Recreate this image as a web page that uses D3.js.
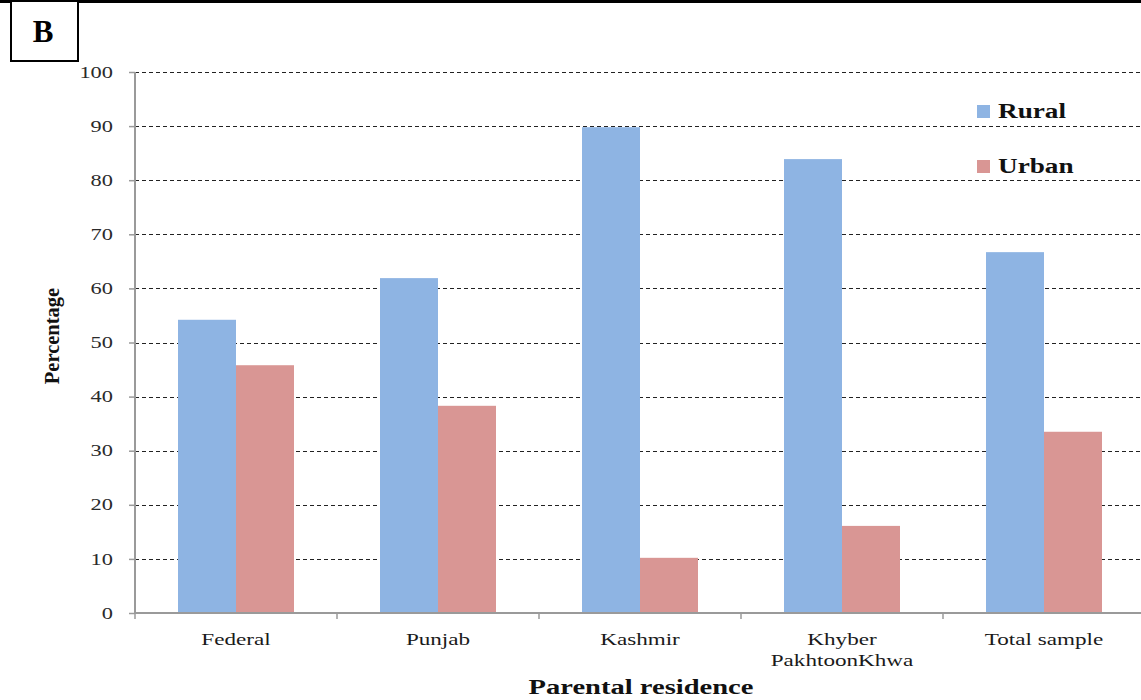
<!DOCTYPE html>
<html>
<head>
<meta charset="utf-8">
<script src="https://cdn.jsdelivr.net/npm/d3@7"></script>
<style>
  html, body { margin: 0; padding: 0; background: #fff; }
  svg { display: block; }
</style>
</head>
<body>
<svg id="chart" width="1141" height="700"></svg>
<script>
// Share of respondents by parental residence, per region
const categories = ["Federal", "Punjab", "Kashmir", "Khyber\nPakhtoonKhwa", "Total sample"];
const rural = [54.2, 61.9, 89.8, 83.9, 66.7];
const urban = [45.8, 38.3, 10.2, 16.1, 33.5];
const seriesNames = ["Rural", "Urban"];
const yTicks = [0, 10, 20, 30, 40, 50, 60, 70, 80, 90, 100];

const colors = { Rural: "#8EB4E3", Urban: "#D99694" };
const serif = "'Liberation Serif', 'Times New Roman', serif";
const wide = 1.36; // horizontal stretch of the chart lettering

const svg = d3.select("#chart");
const plot = { left: 135, right: 1145, top: 72, bottom: 613 };

const x = d3.scaleBand().domain(categories).range([plot.left, plot.right]).padding(0);
const barW = 58;
const y = d3.scaleLinear().domain([0, 100]).range([plot.bottom, plot.top]);

// Top rule across the page
svg.append("line").attr("x1", 0).attr("x2", 1141).attr("y1", 1.5).attr("y2", 1.5)
  .attr("stroke", "#000").attr("stroke-width", 3);

// Panel letter box
svg.append("rect").attr("x", 11).attr("y", 1).attr("width", 67).attr("height", 60)
  .attr("fill", "#fff").attr("stroke", "#000").attr("stroke-width", 2);
svg.append("text").attr("x", 43).attr("y", 42).attr("text-anchor", "middle")
  .attr("font-family", serif).attr("font-weight", "bold").attr("font-size", 31)
  .text("B");

// Dashed gridlines
svg.append("g").selectAll("line").data(yTicks.filter(d => d > 0)).join("line")
  .attr("x1", plot.left).attr("x2", 1141)
  .attr("y1", d => Math.round(y(d)) + 0.5).attr("y2", d => Math.round(y(d)) + 0.5)
  .attr("stroke", "#222").attr("stroke-width", 1).attr("stroke-dasharray", "4,3");

// Bars
const data = categories.map((c, i) => ({ c, Rural: rural[i], Urban: urban[i] }));
const groups = svg.append("g").selectAll("g").data(data).join("g");
groups.append("rect")
  .attr("x", d => x(d.c) + x.bandwidth() / 2 - barW)
  .attr("y", d => y(d.Rural)).attr("width", barW)
  .attr("height", d => y(0) - y(d.Rural)).attr("fill", colors.Rural);
groups.append("rect")
  .attr("x", d => x(d.c) + x.bandwidth() / 2)
  .attr("y", d => y(d.Urban)).attr("width", barW)
  .attr("height", d => y(0) - y(d.Urban)).attr("fill", colors.Urban);

// Y axis
const yAxis = svg.append("g").attr("transform", `translate(${plot.left},0)`)
  .call(d3.axisLeft(y).tickValues(yTicks).tickSize(6).tickPadding(22));
yAxis.select(".domain").attr("stroke", "#9a9a9a").attr("stroke-width", 2)
  .attr("d", `M0,${plot.top}V${plot.bottom}`);
yAxis.selectAll(".tick line").attr("stroke", "#9a9a9a").attr("stroke-width", 1.5);
yAxis.selectAll(".tick text")
  .attr("x", null)
  .attr("transform", `translate(-22,0) scale(${wide + 0.04},1)`)
  .attr("font-family", serif).attr("font-size", 16).attr("fill", "#2a2a2a");

// X axis
const xAxis = svg.append("g").attr("transform", `translate(0,${plot.bottom})`)
  .call(d3.axisBottom(x).tickValues([]).tickSizeOuter(0));
xAxis.select(".domain").attr("stroke", "#9a9a9a").attr("stroke-width", 2)
  .attr("d", `M${plot.left},0H1141`);
const bounds = categories.map(c => x(c));
xAxis.selectAll(".sep").data(bounds).join("line").attr("class", "sep")
  .attr("x1", d => d).attr("x2", d => d).attr("y1", 0).attr("y2", 6)
  .attr("stroke", "#9a9a9a").attr("stroke-width", 1.5);

// Category labels
const labels = svg.append("g").selectAll("text").data(categories).join("text")
  .attr("transform", d => `translate(${x(d) + x.bandwidth() / 2},645) scale(${wide},1)`)
  .attr("text-anchor", "middle").attr("font-family", serif).attr("font-size", 17)
  .attr("fill", "#1a1a1a");
labels.each(function (d) {
  const parts = d.split("\n");
  d3.select(this).selectAll("tspan").data(parts).join("tspan")
    .attr("x", 0).attr("dy", (p, i) => i === 0 ? 0 : 21)
    .text(p => p);
});

// Axis titles
svg.append("text").attr("transform", `translate(641,694) scale(${wide},1)`)
  .attr("text-anchor", "middle")
  .attr("font-family", serif).attr("font-weight", "bold").attr("font-size", 21)
  .attr("fill", "#111").text("Parental residence");
svg.append("text").attr("transform", "translate(59,336) rotate(-90)")
  .attr("text-anchor", "middle").attr("font-family", serif).attr("font-weight", "bold")
  .attr("font-size", 20.5).attr("fill", "#111").text("Percentage");

// Legend
const legend = svg.append("g").selectAll("g").data(seriesNames).join("g")
  .attr("transform", (d, i) => `translate(977,${105 + i * 55})`);
legend.append("rect").attr("width", 13).attr("height", 13).attr("fill", d => colors[d]);
legend.append("text").attr("transform", `translate(21,13) scale(${wide},1)`)
  .attr("font-family", serif)
  .attr("font-weight", "bold").attr("font-size", 20)
  .attr("fill", "#111").text(d => d);
</script>
</body>
</html>
